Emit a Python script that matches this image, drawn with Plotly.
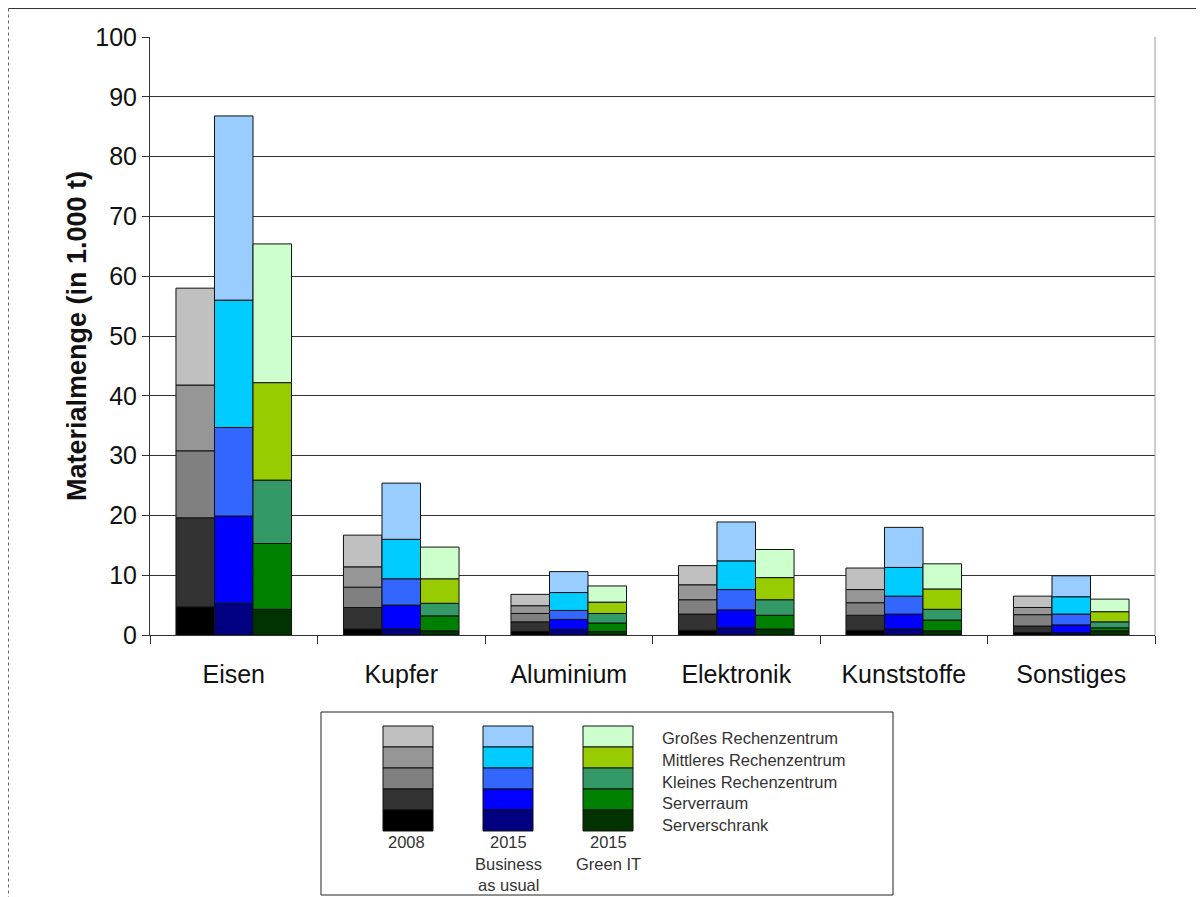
import plotly.graph_objects as go

categories = ["Eisen", "Kupfer", "Aluminium", "Elektronik", "Kunststoffe", "Sonstiges"]
scenarios = ["2008", "2015 Business as usual", "2015 Green IT"]
segments = ["Serverschrank", "Serverraum", "Kleines Rechenzentrum",
            "Mittleres Rechenzentrum", "Großes Rechenzentrum"]

# values [scenario][segment][category] in 1.000 t
v2008 = {
    "Serverschrank":           [4.7, 1.0, 0.6, 0.8, 0.8, 0.4],
    "Serverraum":              [14.9, 3.6, 1.6, 2.7, 2.5, 1.1],
    "Kleines Rechenzentrum":   [11.2, 3.4, 1.4, 2.4, 2.1, 1.9],
    "Mittleres Rechenzentrum": [11.0, 3.4, 1.3, 2.5, 2.2, 1.2],
    "Großes Rechenzentrum":    [16.2, 5.3, 1.9, 3.2, 3.6, 1.9],
}
v2015_bau = {
    "Serverschrank":           [5.3, 1.0, 0.9, 1.2, 1.0, 0.4],
    "Serverraum":              [14.6, 4.0, 1.7, 3.0, 2.5, 1.3],
    "Kleines Rechenzentrum":   [14.8, 4.4, 1.5, 3.4, 3.0, 1.8],
    "Mittleres Rechenzentrum": [21.3, 6.6, 3.0, 4.8, 4.8, 2.9],
    "Großes Rechenzentrum":    [30.8, 9.4, 3.5, 6.5, 6.7, 3.5],
}
v2015_green = {
    "Serverschrank":           [4.3, 0.7, 0.6, 1.0, 0.7, 0.7],
    "Serverraum":              [11.0, 2.5, 1.4, 2.3, 1.8, 0.5],
    "Kleines Rechenzentrum":   [10.6, 2.1, 1.6, 2.6, 1.8, 1.0],
    "Mittleres Rechenzentrum": [16.3, 4.1, 1.9, 3.7, 3.4, 1.7],
    "Großes Rechenzentrum":    [23.2, 5.3, 2.7, 4.7, 4.2, 2.1],
}
y_ticks = [0, 10, 20, 30, 40, 50, 60, 70, 80, 90, 100]
legend_col_labels = [["2008"], ["2015", "Business", "as usual"], ["2015", "Green IT"]]

colors = {
    "2008": ["#000000", "#333333", "#808080", "#969696", "#C0C0C0"],
    "2015 Business as usual": ["#000080", "#0000FF", "#3366FF", "#00CCFF", "#99CCFF"],
    "2015 Green IT": ["#003300", "#008000", "#339966", "#99CC00", "#CCFFCC"],
}
data = {"2008": v2008, "2015 Business as usual": v2015_bau, "2015 Green IT": v2015_green}

FONT = "Liberation Sans, Arial, sans-serif"

fig = go.Figure()
for sc in scenarios:
    base = [0.0] * len(categories)
    for i, seg in enumerate(segments):
        vals = data[sc][seg]
        fig.add_trace(go.Bar(
            x=categories, y=vals, base=base[:], offsetgroup=sc,
            name=f"{sc} – {seg}", showlegend=False,
            marker=dict(color=colors[sc][i], line=dict(color="#111111", width=1)),
        ))
        base = [b + v for b, v in zip(base, vals)]

# page has an 8px body margin: figure coords = screen coords - 8
OFF = 8
W, H = 1196, 889
L, R, T, B = 150 - OFF, 1155 - OFF, 37 - OFF, 635 - OFF

def px(x):  # screen x -> paper
    return (x - OFF - L) / (R - L)

def py(y):  # screen y -> paper
    return (B - (y - OFF)) / (B - T)

shapes = []
annotations = []
# outer frame: top and left edges
shapes.append(dict(type="line", xref="paper", yref="paper", x0=px(8.5), x1=px(1204), y0=py(8.5), y1=py(8.5),
                   line=dict(color="#333", width=1), layer="below"))
shapes.append(dict(type="line", xref="paper", yref="paper", x0=px(8.5), x1=px(8.5), y0=py(8.5), y1=py(897),
                   line=dict(color="#666", width=1, dash="dot"), layer="below"))
# legend box
shapes.append(dict(type="rect", xref="paper", yref="paper", x0=px(321), x1=px(893), y0=py(712), y1=py(895),
                   line=dict(color="#222", width=1), fillcolor="white"))
col_x = [383, 483, 583]
row_h = 21
top = 726
for c, sc in enumerate(scenarios):
    for i in range(5):
        k = 4 - i  # top row = Großes
        y0 = top + i * row_h
        shapes.append(dict(type="rect", xref="paper", yref="paper",
                           x0=px(col_x[c]), x1=px(col_x[c] + 50), y0=py(y0), y1=py(y0 + row_h),
                           line=dict(color="#111", width=1), fillcolor=colors[sc][k]))
for c, lines in enumerate(legend_col_labels):
    for j, t in enumerate(lines):
        annotations.append(dict(xref="paper", yref="paper", x=px(col_x[c] + 25 - (2 if c == 0 else 0)),
                                y=py(842 + j * 21.5), text=t, showarrow=False,
                                font=dict(size=16.5, color="#333", family=FONT),
                                xanchor="center", yanchor="middle"))
for i, seg in enumerate(reversed(segments)):
    annotations.append(dict(xref="paper", yref="paper", x=px(660), y=py(738 + i * 21.8), text=seg,
                            showarrow=False, font=dict(size=16.5, color="#333", family=FONT),
                            xanchor="left", yanchor="middle"))

fig.update_layout(
    width=W, height=H,
    margin=dict(l=L, r=W - R, t=T, b=H - B, pad=0),
    paper_bgcolor="white", plot_bgcolor="white",
    barmode="group", bargap=0.31, bargroupgap=0,
    font=dict(family=FONT, size=25, color="#111"),
    shapes=shapes, annotations=annotations, showlegend=False,
)
fig.update_yaxes(range=[0, 100], tickvals=y_ticks, showgrid=True, gridcolor="#333", gridwidth=1,
                 showline=True, linecolor="#333", linewidth=1, ticks="outside", ticklen=7, tickcolor="#333",
                 mirror=False, zeroline=False,
                 title=dict(text="<b>Materialmenge (in 1.000 t)</b>", font=dict(size=27), standoff=0),
                 tickfont=dict(size=25))
fig.update_xaxes(showline=True, linecolor="#333", linewidth=1, ticks="outside", tickson="boundaries",
                 ticklen=8, tickcolor="#333", tickfont=dict(size=25), ticklabelstandoff=17)
# right plot-area border
fig.add_shape(type="line", xref="paper", yref="paper", x0=1, x1=1, y0=0, y1=1, line=dict(color="#999", width=1))

fig.write_html("out.html")
